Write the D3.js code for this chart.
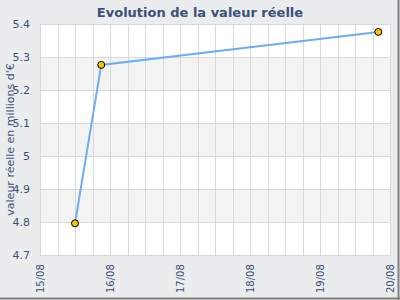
<!DOCTYPE html>
<html><head><meta charset="utf-8">
<script src="https://cdn.jsdelivr.net/npm/d3@7"></script>
<style>html,body{margin:0;padding:0;background:#ebecee;}svg{display:block;}</style>
</head><body>
<svg id="c" width="400" height="300"></svg>
<script>
const title = "Evolution de la valeur réelle";
const yLabel = "valeur réelle en millions d'€";
const dates = ["2008-08-15T12:00", "2008-08-15T21:00", "2008-08-19T20:00"];
const values = [4.796, 5.276, 5.376];
const yTicks = [4.7, 4.8, 4.9, 5, 5.1, 5.2, 5.3, 5.4];
const xTickLabels = ["15/08", "16/08", "17/08", "18/08", "19/08", "20/08"];
const xTickDates = ["2008-08-15", "2008-08-16", "2008-08-17", "2008-08-18", "2008-08-19", "2008-08-20"];

const svg = d3.select("#c");
const W = 400, H = 300;
const m = {l: 40, r: 10, t: 24, b: 45};
const parse = d3.timeParse("%Y-%m-%dT%H:%M");
const parseD = d3.timeParse("%Y-%m-%d");
const data = dates.map((d, i) => ({x: parse(d), y: values[i]}));

const x = d3.scaleTime().domain([parseD(xTickDates[0]), parseD(xTickDates[xTickDates.length-1])]).range([m.l, W - m.r]);
const y = d3.scaleLinear().domain([4.7, 5.4]).range([H - m.b, m.t]);

svg.append("rect").attr("width", W).attr("height", H).attr("fill", "#ebecee");
// borders
svg.append("line").attr("x1", 398.5).attr("x2", 398.5).attr("y1", 0).attr("y2", 300).attr("stroke", "#808080").attr("stroke-width", 2);
svg.append("line").attr("x1", 0).attr("x2", 400).attr("y1", 298.5).attr("y2", 298.5).attr("stroke", "#808080").attr("stroke-width", 2);

// plot bg
svg.append("rect").attr("x", m.l).attr("y", m.t).attr("width", W - m.l - m.r).attr("height", H - m.t - m.b).attr("fill", "#ffffff");
// alternating bands
for (let i = 0; i < yTicks.length - 1; i++) {
  if (i % 2 === 1) {
    svg.append("rect").attr("x", m.l).attr("width", W - m.l - m.r)
      .attr("y", y(yTicks[i+1])).attr("height", y(yTicks[i]) - y(yTicks[i+1]))
      .attr("fill", "#f3f3f3");
  }
}
// vertical grid every 6 hours
const vTicks = d3.timeHour.every(6).range(x.domain()[0], d3.timeHour.offset(x.domain()[1], 1));
svg.append("g").selectAll("line").data(vTicks).join("line")
  .attr("x1", d => Math.round(x(d)) + 0.5).attr("x2", d => Math.round(x(d)) + 0.5)
  .attr("y1", m.t).attr("y2", H - m.b)
  .attr("stroke", "#d9d9d9").attr("stroke-width", 1);
// horizontal grid
svg.append("g").selectAll("line").data(yTicks).join("line")
  .attr("x1", m.l).attr("x2", W - m.r)
  .attr("y1", d => Math.round(y(d)) + 0.5).attr("y2", d => Math.round(y(d)) + 0.5)
  .attr("stroke", "#d9d9d9").attr("stroke-width", 1);

// y tick labels
svg.append("g").selectAll("text").data(yTicks).join("text")
  .attr("x", m.l - 10).attr("y", d => y(d) + 4)
  .attr("text-anchor", "end").attr("font-family", "DejaVu Sans").attr("font-size", 11)
  .attr("fill", "#3d5078").text(d => d3.format("")(+d.toFixed(1)));

// x tick labels
svg.append("g").selectAll("text").data(xTickDates).join("text")
  .attr("transform", d => `translate(${x(parseD(d)) + 4},${H - 7}) rotate(-90)`)
  .attr("text-anchor", "start").attr("font-family", "DejaVu Sans").attr("font-size", 10)
  .attr("fill", "#3d5078").text((d, i) => xTickLabels[i]);

// y label
svg.append("text")
  .attr("transform", `translate(14,${(m.t + H - m.b) / 2}) rotate(-90)`)
  .attr("text-anchor", "middle").attr("font-family", "DejaVu Sans").attr("font-size", 11)
  .attr("fill", "#3d5078").text(yLabel);

// title
svg.append("text").attr("x", 200).attr("y", 17).attr("text-anchor", "middle")
  .attr("font-family", "DejaVu Sans").attr("font-weight", "bold").attr("font-size", 13)
  .attr("fill", "#3d5078").text(title);

// line
const line = d3.line().x(d => x(d.x)).y(d => y(d.y));
svg.append("path").datum(data).attr("d", line).attr("fill", "none")
  .attr("stroke", "#6aaef5").attr("stroke-width", 2);
svg.append("g").selectAll("circle").data(data).join("circle")
  .attr("cx", d => x(d.x)).attr("cy", d => y(d.y)).attr("r", 3.5)
  .attr("fill", "#f5c400").attr("stroke", "#000").attr("stroke-width", 1);
</script>
</body></html>
